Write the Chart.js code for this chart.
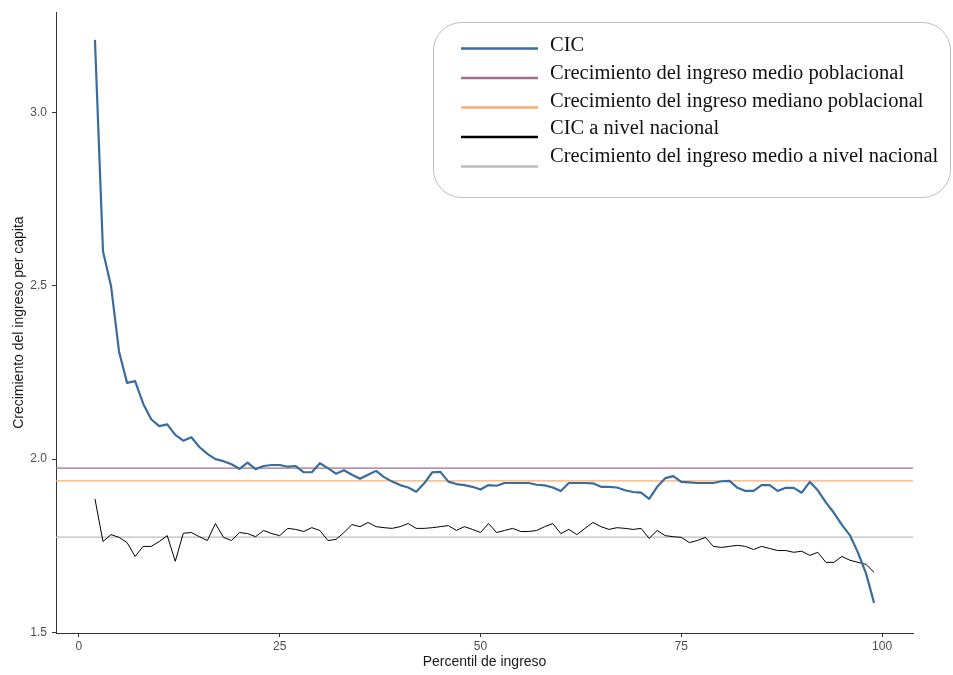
<!DOCTYPE html>
<html>
<head>
<meta charset="utf-8">
<script src="https://cdn.jsdelivr.net/npm/chart.js@4.4.1/dist/chart.umd.min.js"></script>
<style>
  html, body { margin: 0; padding: 0; background: #fff; }
  canvas { display: block; }
</style>
</head>
<body>
<canvas id="cicChart" width="953" height="675"></canvas>
<script>
'use strict';

// Percentiles of income (x) and growth of income per capita (y)
const percentiles = [
  2, 3, 4, 5, 6, 7, 8, 9, 10, 11,
  12, 13, 14, 15, 16, 17, 18, 19, 20, 21,
  22, 23, 24, 25, 26, 27, 28, 29, 30, 31,
  32, 33, 34, 35, 36, 37, 38, 39, 40, 41,
  42, 43, 44, 45, 46, 47, 48, 49, 50, 51,
  52, 53, 54, 55, 56, 57, 58, 59, 60, 61,
  62, 63, 64, 65, 66, 67, 68, 69, 70, 71,
  72, 73, 74, 75, 76, 77, 78, 79, 80, 81,
  82, 83, 84, 85, 86, 87, 88, 89, 90, 91,
  92, 93, 94, 95, 96, 97, 98, 99
];

const cic = [
  3.21, 2.60, 2.50, 2.31, 2.22, 2.225, 2.16, 2.115, 2.095, 2.10,
  2.07, 2.053, 2.063, 2.035, 2.015, 2.0, 1.994, 1.985, 1.972, 1.99,
  1.971, 1.98, 1.983, 1.983, 1.978, 1.98, 1.962, 1.962, 1.988, 1.974,
  1.958, 1.968, 1.955, 1.943, 1.955, 1.966, 1.948, 1.935, 1.925, 1.918,
  1.906, 1.93, 1.962, 1.963, 1.935, 1.928, 1.925, 1.92, 1.912, 1.925,
  1.923, 1.931, 1.931, 1.931, 1.931, 1.926, 1.924, 1.918, 1.908, 1.931,
  1.931, 1.931, 1.93, 1.92, 1.92, 1.918, 1.91, 1.905, 1.903, 1.885,
  1.92, 1.945, 1.951, 1.934, 1.933, 1.931, 1.931, 1.931, 1.936, 1.937,
  1.917, 1.908, 1.908, 1.925, 1.925, 1.908, 1.917, 1.917, 1.903, 1.934,
  1.91, 1.875, 1.845, 1.81, 1.78, 1.73, 1.67, 1.585
];

const cicNacional = [
  1.885, 1.762, 1.782, 1.774, 1.759, 1.719, 1.748, 1.748, 1.762, 1.779,
  1.705, 1.786, 1.788, 1.776, 1.765, 1.814, 1.774, 1.765, 1.788, 1.785,
  1.776, 1.794, 1.785, 1.779, 1.8, 1.797, 1.791, 1.802, 1.794, 1.765,
  1.768, 1.788, 1.811, 1.805, 1.817, 1.805, 1.802, 1.8, 1.805, 1.814,
  1.8, 1.8, 1.802, 1.805, 1.808, 1.794, 1.805, 1.797, 1.788, 1.814,
  1.788, 1.794, 1.8, 1.791, 1.791, 1.794, 1.805, 1.814, 1.785, 1.797,
  1.782, 1.8, 1.817, 1.805, 1.797, 1.802, 1.8, 1.797, 1.8, 1.771,
  1.794, 1.779, 1.776, 1.774, 1.759, 1.765, 1.774, 1.748, 1.745, 1.748,
  1.751, 1.748, 1.739, 1.748, 1.742, 1.736, 1.736, 1.731, 1.734, 1.722,
  1.731, 1.702, 1.702, 1.719, 1.708, 1.702, 1.696, 1.673
];

// reference levels (horizontal lines)
const mediaPoblacional = 1.974;
const medianaPoblacional = 1.937;
const mediaNacional = 1.775;

const xTicks = [0, 25, 50, 75, 100];
const yTicks = [1.5, 2.0, 2.5, 3.0];

// axis limits with the usual 5% padding around the data
const xMin = -2.85, xMax = 103.85;
const yMin = 1.498, yMax = 3.29;

const toPoints = (ys) => percentiles.map((p, i) => ({ x: p, y: ys[i] }));
const hline = (v) => [{ x: xMin, y: v }, { x: xMax, y: v }];

const colors = {
  cic: '#3A6C9F',
  medio: '#A66D8B',
  mediano: '#F7AE6F',
  nacional: '#000000',
  medioNac: '#BDBDBD'
};

// boxed legend with rounded corners, drawn on top of the plot
const boxLegend = {
  id: 'boxLegend',
  afterDraw(chart) {
    const c = chart.ctx;
    const x = 433.5, y = 22.5, w = 517, h = 175, r = 28;
    c.save();
    c.beginPath();
    c.moveTo(x + r, y);
    c.arcTo(x + w, y, x + w, y + h, r);
    c.arcTo(x + w, y + h, x, y + h, r);
    c.arcTo(x, y + h, x, y, r);
    c.arcTo(x, y, x + w, y, r);
    c.closePath();
    c.fillStyle = '#ffffff';
    c.fill();
    c.strokeStyle = '#BDBDBD';
    c.lineWidth = 1;
    c.stroke();

    const items = chart.data.datasets.slice().sort((a, b) => a.legendOrder - b.legendOrder);
    c.font = '20.5px "Liberation Serif", "Times New Roman", serif';
    c.textBaseline = 'middle';
    c.textAlign = 'left';
    items.forEach((ds, i) => {
      const ly = 48.5 + 29.5 * i;
      c.beginPath();
      c.moveTo(461, ly);
      c.lineTo(538, ly);
      c.strokeStyle = ds.borderColor;
      c.lineWidth = 2.5;
      c.stroke();
      c.fillStyle = '#111111';
      c.fillText(ds.label, 550, 46 + 27.6 * i);
    });
    c.restore();
  }
};

const tickFont = { family: 'Liberation Sans, Arial, sans-serif', size: 12 };
const titleFont = { family: 'Liberation Sans, Arial, sans-serif', size: 14 };

const ctx = document.getElementById('cicChart').getContext('2d');

const myChart = new Chart(ctx, {
  type: 'scatter',
  data: {
    datasets: [
      {
        label: 'Crecimiento del ingreso medio poblacional',
        data: hline(mediaPoblacional),
        borderColor: colors.medio,
        borderWidth: 1.2,
        legendOrder: 1,
        order: 3
      },
      {
        label: 'Crecimiento del ingreso mediano poblacional',
        data: hline(medianaPoblacional),
        borderColor: colors.mediano,
        borderWidth: 1.2,
        legendOrder: 2,
        order: 3
      },
      {
        label: 'Crecimiento del ingreso medio a nivel nacional',
        data: hline(mediaNacional),
        borderColor: colors.medioNac,
        borderWidth: 1.2,
        legendOrder: 4,
        order: 3
      },
      {
        label: 'CIC a nivel nacional',
        data: toPoints(cicNacional),
        borderColor: colors.nacional,
        borderWidth: 1,
        legendOrder: 3,
        order: 2
      },
      {
        label: 'CIC',
        data: toPoints(cic),
        borderColor: colors.cic,
        borderWidth: 2.2,
        legendOrder: 0,
        order: 1
      }
    ]
  },
  options: {
    responsive: false,
    animation: false,
    showLine: true,
    layout: { padding: { left: 0, top: 8, right: 40, bottom: 0 } },
    elements: {
      point: { radius: 0, hoverRadius: 0 },
      line: { tension: 0, fill: false, borderJoinStyle: 'round', borderCapStyle: 'butt' }
    },
    plugins: {
      legend: { display: false },
      tooltip: { enabled: false }
    },
    scales: {
      x: {
        type: 'linear',
        min: xMin,
        max: xMax,
        afterBuildTicks(scale) { scale.ticks = xTicks.map(v => ({ value: v })); },
        afterFit(scale) { scale.height = 42; },
        ticks: { color: '#4D4D4D', font: tickFont, padding: 2, maxRotation: 0 },
        grid: { drawOnChartArea: false, color: '#333333', tickLength: 4 },
        border: { color: '#333333', width: 1 },
        title: {
          display: true,
          text: 'Percentil de ingreso',
          color: '#1A1A1A',
          font: titleFont,
          padding: { top: 0, bottom: 4 }
        }
      },
      y: {
        type: 'linear',
        min: yMin,
        max: yMax,
        afterBuildTicks(scale) { scale.ticks = yTicks.map(v => ({ value: v })); },
        afterFit(scale) { scale.width = 56; },
        ticks: {
          color: '#4D4D4D',
          font: tickFont,
          padding: 5,
          callback: (v) => Number(v).toFixed(1)
        },
        grid: { drawOnChartArea: false, color: '#333333', tickLength: 4 },
        border: { color: '#333333', width: 1 },
        title: {
          display: true,
          text: 'Crecimiento del ingreso per capita',
          color: '#1A1A1A',
          font: titleFont,
          padding: { top: 11, bottom: 0 }
        }
      }
    }
  },
  plugins: [boxLegend]
});
</script>
</body>
</html>
